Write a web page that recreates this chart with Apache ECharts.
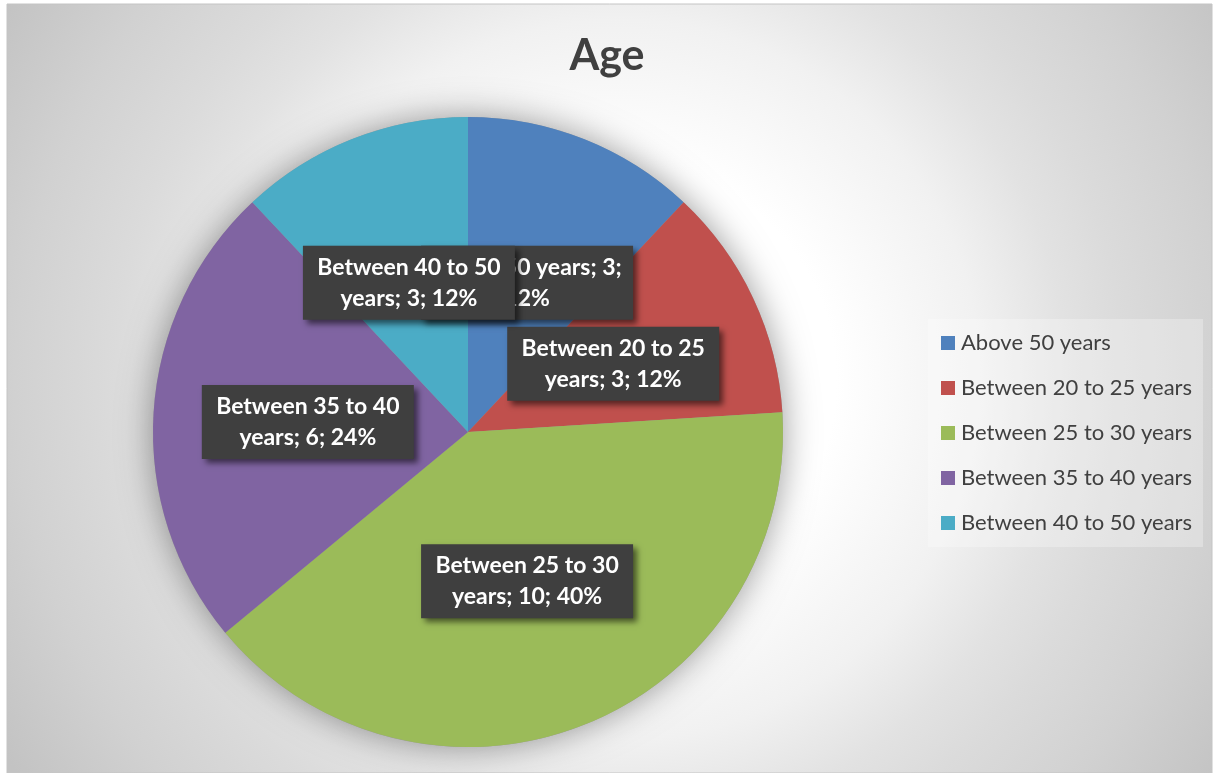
<!DOCTYPE html>
<html>
<head>
<meta charset="utf-8">
<title>Age</title>
<script src="https://cdn.jsdelivr.net/npm/echarts@6/dist/echarts.min.js"></script>
<style>
  html, body { margin: 0; padding: 0; background: #ffffff; }
  #chart { width: 1214px; height: 773px; }
</style>
</head>
<body>
<div id="chart"></div>
<script>
// Respondent counts by age group
const categories = [
  'Above 50 years',
  'Between 20 to 25 years',
  'Between 25 to 30 years',
  'Between 35 to 40 years',
  'Between 40 to 50 years'
];
const counts = [3, 3, 10, 6, 3];
const sliceColors = ['#4F81BD', '#C0504D', '#9BBB59', '#8064A2', '#4BACC6'];

const LABEL_SIZE = 23;
const LABEL_W = 194, PAD_X = 9, PAD_Y = 6, LINE_H = 31;

// Greedy word wrap of a data label to the label box width
const measureCtx = document.createElement('canvas').getContext('2d');
measureCtx.font = 'bold ' + LABEL_SIZE + 'px Lato';
function wrapText(text, maxW) {
  const words = text.split(' ');
  const lines = [];
  let cur = '';
  words.forEach(w => {
    const t = cur ? cur + ' ' + w : w;
    if (cur && measureCtx.measureText(t).width > maxW) {
      lines.push(cur);
      cur = w;
    } else {
      cur = t;
    }
  });
  if (cur) lines.push(cur);
  return lines.join('\n');
}

const chart = echarts.init(document.getElementById('chart'), null, { renderer: 'canvas' });
const total = counts.reduce((a, b) => a + b, 0);
const pieCenter = [468, 432];
const pieRadius = 315;

const option = {
  animation: false,
  graphic: [{
    type: 'rect',
    z: -10,
    silent: true,
    shape: { x: 7, y: 4, width: 1205, height: 769 },
    style: {
      fill: new echarts.graphic.RadialGradient(620, 380, 720, [
        { offset: 0, color: '#ffffff' },
        { offset: 0.3, color: '#ffffff' },
        { offset: 0.5, color: '#f1f1f1' },
        { offset: 0.62, color: '#e2e2e2' },
        { offset: 0.7, color: '#dbdbdb' },
        { offset: 0.84, color: '#d1d1d1' },
        { offset: 1, color: '#c3c3c3' }
      ], true),
      stroke: '#c4c4c4',
      lineWidth: 1
    }
  }],
  title: {
    text: 'Age',
    left: 'center',
    top: 35,
    padding: 0,
    textStyle: {
      fontFamily: 'Lato',
      fontWeight: 'bold',
      fontSize: 43,
      color: '#404040'
    }
  },
  legend: {
    orient: 'vertical',
    left: 928,
    top: 319,
    padding: [13, 11, 13, 13],
    itemGap: 23,
    itemWidth: 14,
    itemHeight: 14,
    icon: 'rect',
    backgroundColor: 'rgba(255,255,255,0.28)',
    data: categories,
    selectedMode: false,
    textStyle: {
      fontFamily: 'Lato',
      fontSize: 22,
      lineHeight: 22,
      color: '#404040',
      padding: [0, 0, 0, 1]
    }
  },
  series: [
    {
      // soft drop shadow under the whole pie
      type: 'pie',
      silent: true,
      z: 1,
      center: pieCenter,
      radius: pieRadius,
      label: { show: false },
      labelLine: { show: false },
      itemStyle: {
        color: '#9a9a9a',
        shadowBlur: 34,
        shadowColor: 'rgba(0,0,0,0.4)'
      },
      data: [{ value: total, name: 'shadow' }]
    },
    {
      type: 'pie',
      z: 2,
      center: pieCenter,
      radius: pieRadius,
      startAngle: 90,
      clockwise: true,
      avoidLabelOverlap: false,
      color: sliceColors,
      itemStyle: { borderWidth: 0 },
      labelLayout: { hideOverlap: false },
      label: {
        show: true,
        position: 'inside',
        formatter: p => wrapText(`${p.name}; ${p.value}; ${Math.round(p.percent)}%`, 212),
        fontFamily: 'Lato',
        fontWeight: 'bold',
        fontSize: LABEL_SIZE,
        lineHeight: LINE_H,
        color: '#ffffff',
        width: LABEL_W,
        overflow: 'none',
        align: 'center',
        verticalAlign: 'middle',
        padding: [PAD_Y, PAD_X],
        backgroundColor: '#3f3f3f',
        shadowColor: 'rgba(0,0,0,0.55)',
        shadowBlur: 6,
        shadowOffsetX: 4,
        shadowOffsetY: 4
      },
      labelLine: { show: false },
      emphasis: { disabled: true },
      data: categories.map((name, i) => ({ name, value: counts[i] }))
    }
  ]
};
chart.setOption(option);
</script>
</body>
</html>
